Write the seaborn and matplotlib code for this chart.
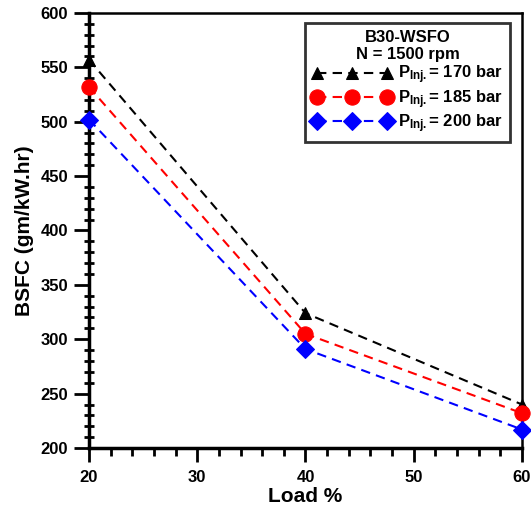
import matplotlib
matplotlib.use("Agg")
import matplotlib.pyplot as plt
import seaborn as sns
import pandas as pd
from matplotlib.ticker import MultipleLocator

load = [20, 40, 60]
bsfc_170 = [557, 324, 240]
bsfc_185 = [532, 305, 232]
bsfc_200 = [502, 291, 217]
labels = [r"P$_{\mathbf{Inj.}}$= 170 bar", r"P$_{\mathbf{Inj.}}$= 185 bar", r"P$_{\mathbf{Inj.}}$= 200 bar"]
colors = ["black", "red", "blue"]
markers = ["^", "o", "D"]
msizes = [9, 11, 9]
legend_title = "B30-WSFO\nN = 1500 rpm"

sns.set_style("ticks")
plt.rcParams['font.family'] = ['Liberation Sans', 'DejaVu Sans']
plt.rcParams['font.weight'] = 'bold'
plt.rcParams['mathtext.fontset'] = 'custom'
plt.rcParams['mathtext.rm'] = 'Liberation Sans:bold'
plt.rcParams['mathtext.bf'] = 'Liberation Sans:bold'
plt.rcParams['mathtext.it'] = 'Liberation Sans:bold'
for k in ['text.color', 'axes.labelcolor', 'xtick.color', 'ytick.color', 'axes.edgecolor']:
    plt.rcParams[k] = 'black'

fig = plt.figure(figsize=(5.31, 5.13), dpi=100)
ax = fig.add_axes([0.1676, 0.1267, 0.983 - 0.1676, 0.9747 - 0.1267])

series = [bsfc_170, bsfc_185, bsfc_200]
for vals, lab, c, m, ms in zip(series, labels, colors, markers, msizes):
    df = pd.DataFrame({"Load": load, "BSFC": vals})
    sns.lineplot(data=df, x="Load", y="BSFC", ax=ax, color=c, marker=m,
                 markersize=ms, markeredgecolor=c, linestyle=(0, (4.5, 3)),
                 linewidth=1.5, label=lab, clip_on=False, zorder=3)

ax.set_xlim(20, 60)
ax.set_ylim(200, 600)
ax.xaxis.set_major_locator(MultipleLocator(10))
ax.xaxis.set_minor_locator(MultipleLocator(2))
ax.yaxis.set_major_locator(MultipleLocator(50))
ax.yaxis.set_minor_locator(MultipleLocator(10))
ax.tick_params(axis='both', which='major', labelsize=12, width=2, color='black')
ax.tick_params(axis='y', which='major', length=11, direction='out', pad=4)
ax.tick_params(axis='y', which='minor', width=2, length=7, direction='inout', color='black')
ax.tick_params(axis='x', which='minor', width=2, length=6, direction='out', color='black')
ax.tick_params(axis='x', which='major', length=10, direction='out', pad=6)
for t in ax.get_xticklabels() + ax.get_yticklabels():
    t.set_fontweight('bold')

for s in ['left', 'bottom']:
    ax.spines[s].set_linewidth(2.5)
for s in ['top', 'right']:
    ax.spines[s].set_linewidth(1.8)
for s in ax.spines.values():
    s.set_color('black')

ax.set_xlabel("Load %", fontsize=15, fontweight='bold', labelpad=1)
ax.set_ylabel("BSFC (gm/kW.hr)", fontsize=15, fontweight='bold', labelpad=5)

leg = ax.legend(title=legend_title, loc='upper right', bbox_to_anchor=(0.972, 0.977),
                numpoints=3, handlelength=4.8, handletextpad=0.4, fontsize=12,
                title_fontproperties={'weight': 'bold', 'size': 12},
                frameon=True, fancybox=False, edgecolor='black', borderpad=0.4,
                labelspacing=0.1, borderaxespad=0)
leg.get_frame().set_linewidth(2)
leg.get_title().set_multialignment('center')
for t in leg.get_texts():
    t.set_fontweight('bold')

fig.savefig("out.png", dpi=100)
